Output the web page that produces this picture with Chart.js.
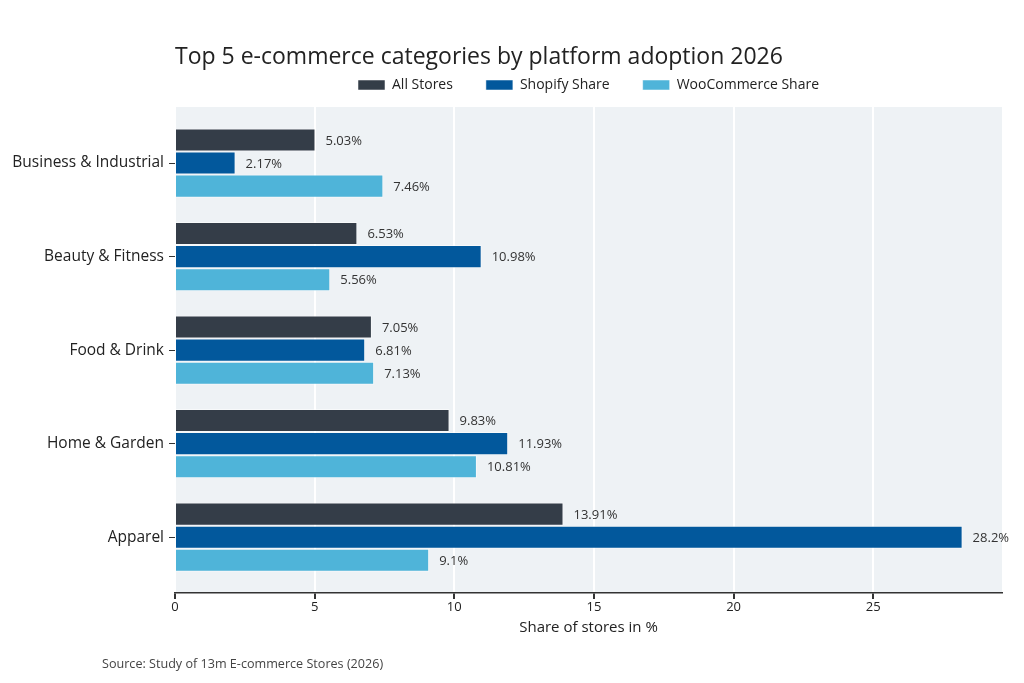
<!DOCTYPE html>
<html>
<head>
<meta charset="utf-8">
<script src="https://cdn.jsdelivr.net/npm/chart.js@4.4.1/dist/chart.umd.min.js"></script>
<style>
  html, body { margin: 0; padding: 0; background: #ffffff; }
  #wrap { position: relative; width: 1024px; height: 683px; }
  #source {
    position: absolute; left: 102px; top: 655px;
    font-family: "Open Sans", sans-serif; font-size: 12.6px; color: #444;
  }
</style>
</head>
<body>
<div id="wrap">
  <canvas id="chart" width="1024" height="683"></canvas>
  <div id="source">Source: Study of 13m E-commerce Stores (2026)</div>
</div>
<script>
// Chart data
const categories = ["Business & Industrial", "Beauty & Fitness", "Food & Drink", "Home & Garden", "Apparel"];
const allStores = [5.03, 6.53, 7.05, 9.83, 13.91];
const shopifyShare = [2.17, 10.98, 6.81, 11.93, 28.2];
const wooShare = [7.46, 5.56, 7.13, 10.81, 9.1];
const xTicks = [0, 5, 10, 15, 20, 25];

const FONT = "'Open Sans', sans-serif";

// Grey plot background (starts a little below the legend)
const plotBackground = {
  id: "plotBackground",
  beforeDraw(chart) {
    const { ctx, chartArea } = chart;
    const top = chart.scales.y.getPixelForValue(-0.6);
    ctx.save();
    ctx.fillStyle = "#eef2f5";
    ctx.fillRect(chartArea.left, top, chartArea.right - chartArea.left, chartArea.bottom - top);
    ctx.restore();
  },
};

// Value labels at the end of each bar
const valueLabels = {
  id: "valueLabels",
  afterDatasetsDraw(chart) {
    const { ctx } = chart;
    ctx.save();
    ctx.font = "13px " + FONT;
    ctx.fillStyle = "#333";
    ctx.textAlign = "left";
    ctx.textBaseline = "middle";
    chart.data.datasets.forEach((ds, di) => {
      chart.getDatasetMeta(di).data.forEach((bar, i) => {
        ctx.fillText(ds.data[i].x + "%", bar.x + 10, bar.y + 1);
      });
    });
    ctx.restore();
  },
};

function toPoints(values) {
  return values.map((v, i) => ({ x: v, y: i }));
}

const ctx = document.getElementById("chart").getContext("2d");
new Chart(ctx, {
  type: "bar",
  data: {
    datasets: [
      { label: "All Stores", data: toPoints(allStores), backgroundColor: "#343d48" },
      { label: "Shopify Share", data: toPoints(shopifyShare), backgroundColor: "#02589c" },
      { label: "WooCommerce Share", data: toPoints(wooShare), backgroundColor: "#4fb4d9" },
    ],
  },
  options: {
    responsive: false,
    animation: false,
    indexAxis: "y",
    datasets: {
      bar: {
        categoryPercentage: 0.74,
        barPercentage: 1,
        borderWidth: 1,
        borderColor: "rgba(255,255,255,0.5)",
        borderSkipped: "start",
      },
    },
    layout: { padding: { left: 10, right: 22, top: 44, bottom: 46 } },
    scales: {
      x: {
        type: "linear",
        min: 0,
        max: 29.61,
        afterBuildTicks: (scale) => { scale.ticks = xTicks.map((v) => ({ value: v })); },
        afterFit: (scale) => { scale.height = 44; },
        ticks: { color: "#222", font: { family: FONT, size: 13 }, padding: 0 },
        grid: { color: "#ffffff", lineWidth: 2, tickColor: "#333", tickLength: 6 },
        border: { display: true, color: "#333", width: 1.5 },
        title: {
          display: true,
          text: "Share of stores in %",
          color: "#222",
          font: { family: FONT, size: 15 },
          padding: { top: 4, bottom: 0 },
        },
      },
      y: {
        type: "linear",
        reverse: true,
        offset: false,
        min: -0.653,
        max: 4.597,
        afterBuildTicks: (scale) => { scale.ticks = categories.map((c, i) => ({ value: i })); },
        afterFit: (scale) => { scale.width = 165; },
        ticks: {
          color: "#222",
          font: { family: FONT, size: 15.5 },
          padding: 5,
          callback: (v) => categories[v],
        },
        grid: { offset: false, drawOnChartArea: false, tickColor: "#333", tickLength: 6 },
        border: { display: false },
      },
    },
    plugins: {
      title: {
        display: true,
        text: "Top 5 e-commerce categories by platform adoption 2026",
        align: "start",
        fullSize: false,
        color: "#222",
        font: { family: FONT, size: 23, weight: "normal" },
        padding: { top: 0, bottom: -26.6 },
      },
      legend: {
        display: true,
        fullSize: false,
        position: "top",
        labels: {
          color: "#222",
          boxWidth: 27,
          boxHeight: 10,
          padding: 33,
          font: { family: FONT, size: 14 },
        },
      },
      tooltip: { enabled: false },
    },
  },
  plugins: [plotBackground, valueLabels],
});
</script>
</body>
</html>
